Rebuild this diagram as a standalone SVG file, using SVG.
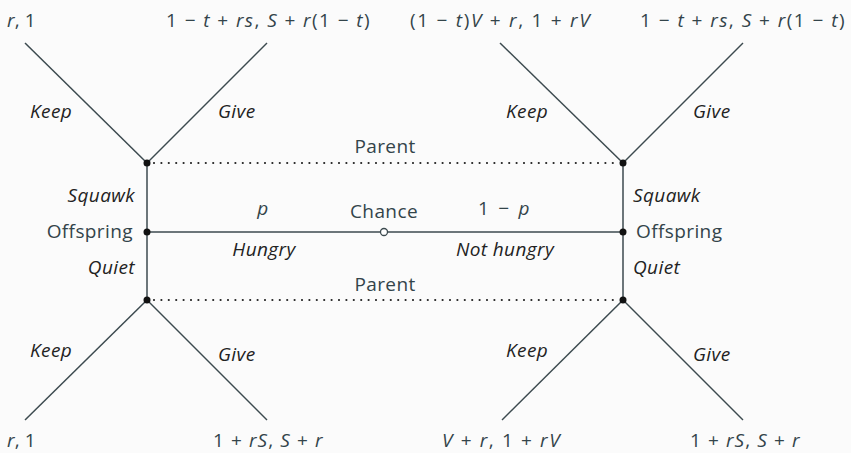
<svg xmlns="http://www.w3.org/2000/svg" width="851" height="453" viewBox="0 0 851 453">
<style>
text{font-family:"Open Sans","Liberation Sans",sans-serif;font-size:19px;letter-spacing:0.4px;fill:#33444a}
.i{font-style:italic;fill:#222}
.m{font-style:italic}
.e{stroke:#3c4a4f;stroke-width:1.5;fill:none}
.d{stroke:#222;stroke-width:2.2;stroke-dasharray:0 7.4;stroke-linecap:round;fill:none}
.dot{fill:#111}
.c{text-anchor:middle}
.r{text-anchor:end}
</style>
<rect width="851" height="453" fill="#fbfbfb"/>
<g id="connectors">
<line class="e" x1="147" y1="163" x2="25" y2="43"/>
<line class="e" x1="147" y1="163" x2="267" y2="43"/>
<line class="e" x1="623" y1="163" x2="500" y2="43"/>
<line class="e" x1="623" y1="163" x2="743" y2="43"/>
<line class="e" x1="147" y1="300" x2="25" y2="420"/>
<line class="e" x1="147" y1="300" x2="267" y2="420"/>
<line class="e" x1="623" y1="300" x2="502" y2="420"/>
<line class="e" x1="623" y1="300" x2="743" y2="420"/>
<line class="e" x1="147" y1="163" x2="147" y2="300"/>
<line class="e" x1="623" y1="163" x2="623" y2="300"/>
<line class="e" x1="147" y1="232" x2="623" y2="232"/>
<line class="d" x1="154" y1="163" x2="619" y2="163"/>
<line class="d" x1="154" y1="300" x2="619" y2="300"/>
</g>
<g id="labels">
<text x="7" y="27" textLength="29" lengthAdjust="spacing"><tspan class="m">r</tspan>, 1</text>
<text x="166" y="27" textLength="204" lengthAdjust="spacing">1 − <tspan class="m">t</tspan> + <tspan class="m">rs</tspan>, <tspan class="m">S</tspan> + <tspan class="m">r</tspan>(1 − <tspan class="m">t</tspan>)</text>
<text x="410" y="27" textLength="180" lengthAdjust="spacing">(1 − <tspan class="m">t</tspan>)<tspan class="m">V</tspan> + <tspan class="m">r</tspan>, 1 + <tspan class="m">rV</tspan></text>
<text x="640" y="27" textLength="205" lengthAdjust="spacing">1 − <tspan class="m">t</tspan> + <tspan class="m">rs</tspan>, <tspan class="m">S</tspan> + <tspan class="m">r</tspan>(1 − <tspan class="m">t</tspan>)</text>
<text class="i" x="30" y="118">Keep</text>
<text class="i" x="218" y="118">Give</text>
<text class="i" x="506" y="118">Keep</text>
<text class="i" x="693" y="118">Give</text>
<text class="c" x="385" y="153">Parent</text>
<text class="c" x="385" y="291">Parent</text>
<text class="i r" x="135" y="202">Squawk</text>
<text class="r" x="133" y="238">Offspring</text>
<text class="i r" x="135" y="274">Quiet</text>
<text class="i" x="633" y="202">Squawk</text>
<text x="636" y="238">Offspring</text>
<text class="i" x="633" y="274">Quiet</text>
<text class="c m" x="263" y="215">p</text>
<text class="c" x="384" y="218">Chance</text>
<text x="478" y="215" textLength="52" lengthAdjust="spacing">1 − <tspan class="m">p</tspan></text>
<text class="i c" x="264" y="256">Hungry</text>
<text class="i c" x="505" y="256">Not hungry</text>
<text class="i" x="30" y="357">Keep</text>
<text class="i" x="218" y="361">Give</text>
<text class="i" x="506" y="357">Keep</text>
<text class="i" x="693" y="361">Give</text>
<text x="7" y="447" textLength="29" lengthAdjust="spacing"><tspan class="m">r</tspan>, 1</text>
<text x="213" y="447" textLength="110" lengthAdjust="spacing">1 + <tspan class="m">rS</tspan>, <tspan class="m">S</tspan> + <tspan class="m">r</tspan></text>
<text x="442" y="447" textLength="118" lengthAdjust="spacing"><tspan class="m">V</tspan> + <tspan class="m">r</tspan>, 1 + <tspan class="m">rV</tspan></text>
<text x="690" y="447" textLength="110" lengthAdjust="spacing">1 + <tspan class="m">rS</tspan>, <tspan class="m">S</tspan> + <tspan class="m">r</tspan></text>
</g>
<g id="n-parent-top-left"><circle class="dot" cx="147" cy="163" r="3.5"/></g>
<g id="n-parent-top-right"><circle class="dot" cx="623" cy="163" r="3.5"/></g>
<g id="n-offspring-left"><circle class="dot" cx="147" cy="232" r="3.5"/></g>
<g id="n-offspring-right"><circle class="dot" cx="623" cy="232" r="3.5"/></g>
<g id="n-parent-bottom-left"><circle class="dot" cx="147" cy="300" r="3.5"/></g>
<g id="n-parent-bottom-right"><circle class="dot" cx="623" cy="300" r="3.5"/></g>
<g id="n-chance"><circle cx="384" cy="232" r="3.5" fill="#fff" stroke="#3c4a4f" stroke-width="1.3"/></g>
</svg>
